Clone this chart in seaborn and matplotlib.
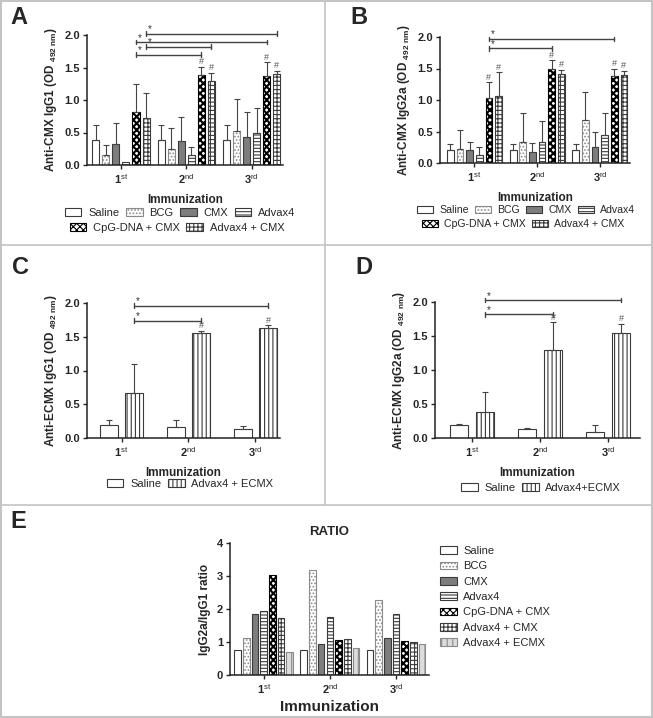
import numpy as np
import pandas as pd
import seaborn as sns
import matplotlib.pyplot as plt
from matplotlib.lines import Line2D

W, H = 653, 718

sns.set_style('white')
plt.rcParams['font.family'] = ['Liberation Sans', 'DejaVu Sans']
plt.rcParams['mathtext.fontset'] = 'custom'
plt.rcParams['mathtext.rm'] = 'Liberation Sans'
plt.rcParams['mathtext.bf'] = 'Liberation Sans:bold'
plt.rcParams['hatch.linewidth'] = 0.8

# ---- data ----
doses = ['1st', '2nd', '3rd']
dose_labels = [r'$\mathbf{1}^{\mathrm{st}}$', r'$\mathbf{2}^{\mathrm{nd}}$', r'$\mathbf{3}^{\mathrm{rd}}$']

groups_cmx = ['Saline', 'BCG', 'CMX', 'Advax4', 'CpG-DNA + CMX', 'Advax4 + CMX']
groups_ecmx = ['Saline', 'Advax4 + ECMX']
groups_ratio = ['Saline', 'BCG', 'CMX', 'Advax4', 'CpG-DNA + CMX', 'Advax4 + CMX', 'Advax4 + ECMX']

# A: anti-CMX IgG1 (mean, SD) per group x dose
a_mean = [[0.39, 0.39, 0.39], [0.16, 0.24, 0.52], [0.32, 0.37, 0.43],
          [0.05, 0.15, 0.49], [0.81, 1.38, 1.37], [0.73, 1.30, 1.40]]
a_sd = [[0.22, 0.22, 0.22], [0.15, 0.33, 0.50], [0.33, 0.37, 0.39],
        [0.00, 0.12, 0.39], [0.44, 0.13, 0.21], [0.38, 0.12, 0.05]]

# B: anti-CMX IgG2a
b_mean = [[0.20, 0.20, 0.20], [0.23, 0.33, 0.69], [0.20, 0.17, 0.26],
          [0.13, 0.34, 0.45], [1.03, 1.50, 1.38], [1.07, 1.42, 1.40]]
b_sd = [[0.10, 0.10, 0.10], [0.30, 0.46, 0.44], [0.14, 0.14, 0.24],
        [0.13, 0.32, 0.34], [0.25, 0.13, 0.12], [0.37, 0.06, 0.06]]

# C: anti-ECMX IgG1
c_mean = [[0.20, 0.17, 0.13], [0.67, 1.55, 1.63]]
c_sd = [[0.07, 0.09, 0.05], [0.42, 0.04, 0.04]]

# D: anti-ECMX IgG2a
d_mean = [[0.19, 0.13, 0.09], [0.38, 1.30, 1.54]]
d_sd = [[0.01, 0.02, 0.10], [0.29, 0.40, 0.14]]

# E: IgG2a/IgG1 ratio
e_ratio = [[0.76, 0.76, 0.76], [1.11, 3.19, 2.28], [1.84, 0.93, 1.12],
           [1.94, 1.76, 1.86], [3.02, 1.06, 1.03], [1.72, 1.08, 0.99],
           [0.71, 0.83, 0.94]]

# significance: (group idx, dose from, dose to, height) and '#' marks (group idx, dose)
a_sig = [(4, 0, 1, 1.70), (5, 0, 1, 1.82), (4, 0, 2, 1.89), (5, 0, 2, 2.02)]
a_hash = [(4, 1), (5, 1), (4, 2), (5, 2)]
b_sig = [(4, 0, 1, 1.82), (4, 0, 2, 1.97)]
b_hash = [(4, 0), (5, 0), (4, 1), (5, 1), (4, 2), (5, 2)]
c_sig = [(1, 0, 1, 1.74), (1, 0, 2, 1.96)]
c_hash = [(1, 1), (1, 2)]
d_sig = [(1, 0, 1, 1.82), (1, 0, 2, 2.03)]
d_hash = [(1, 1), (1, 2)]

# ---- styles: facecolor, hatch, edgecolor, hatch linewidth ----
EDGE = '#3a3a3a'
STYLE = {
    'Saline': ('white', '', EDGE, 0.8),
    'BCG': ('white', '.....', '#8a8a8a', 0.8),
    'CMX': ('#7d7d7d', '', EDGE, 0.8),
    'Advax4': ('white', '-----', EDGE, 0.8),
    'CpG-DNA + CMX': ('white', 'xxxxx', '#000000', 1.5),
    'Advax4 + CMX': ('white', '++++', EDGE, 0.8),
    'Advax4 + ECMX': ('white', '||||', EDGE, 0.8),
}

fig = plt.figure(figsize=(W / 100, H / 100), dpi=100)


def add_ax(l, r, t, b):
    return fig.add_axes([l / W, 1 - b / H, (r - l) / W, (b - t) / H])


def draw_bars(ax, groups, means, sds, width, gap, style=STYLE):
    rows = []
    for g, m in zip(groups, means):
        for d, v in zip(doses, m):
            rows.append({'dose': d, 'group': g, 'value': v})
    df = pd.DataFrame(rows)
    pal = {g: style[g][0] for g in groups}
    sns.barplot(data=df, x='dose', y='value', hue='group', order=doses,
                hue_order=groups, palette=pal, saturation=1, errorbar=None,
                width=width, gap=gap, edgecolor=EDGE, linewidth=0.8,
                legend=False, ax=ax)
    conts = list(ax.containers)
    for k, (cont, g) in enumerate(zip(conts, groups)):
        fc, hatch, ec, hlw = style[g]
        for j, bar in enumerate(cont):
            bar.set_hatch(hatch)
            bar.set_edgecolor(ec)
            if hasattr(bar, 'set_hatch_linewidth'):
                bar.set_hatch_linewidth(hlw)
            else:
                bar._hatch_linewidth = hlw
            if sds is not None and sds[k][j] > 0:
                x = bar.get_x() + bar.get_width() / 2
                ax.errorbar(x, bar.get_height(), yerr=[[0], [sds[k][j]]],
                            fmt='none', ecolor='#444444', elinewidth=0.8,
                            capsize=2.2, capthick=0.8)
    return conts


def style_axis(ax, ylabel, xlim, ylim, yticks, fmt='{:.1f}'):
    sns.despine(ax=ax)
    for s in ('left', 'bottom'):
        ax.spines[s].set_linewidth(1.1)
        ax.spines[s].set_color('#222222')
    ax.set_xlim(*xlim)
    ax.set_ylim(*ylim)
    ax.set_yticks(yticks)
    ax.set_yticklabels([fmt.format(v) for v in yticks], fontweight='bold')
    ax.set_xticks([0, 1, 2])
    ax.set_xticklabels(dose_labels)
    ax.tick_params(axis='both', labelsize=8, length=3, width=1, direction='out',
                   left=True, bottom=True, pad=2)
    ax.set_ylabel(ylabel, fontsize=8.5, fontweight='bold', labelpad=4)
    ax.set_xlabel('Immunization', fontsize=8.5, fontweight='bold', labelpad=6)


def bar_x(conts, k, j):
    b = conts[k][j]
    return b.get_x() + b.get_width() / 2


def annotate(ax, conts, sig, hashes, sds):
    for k, j1, j2, y in sig:
        x1, x2 = bar_x(conts, k, j1), bar_x(conts, k, j2)
        ax.plot([x1, x2], [y, y], color='#444444', lw=1.0, clip_on=False)
        for x in (x1, x2):
            ax.plot([x, x], [y - 0.035, y + 0.035], color='#444444', lw=1.0,
                    clip_on=False)
        ax.text(x1 + 0.03, y - 0.01, '*', fontsize=7, ha='left', va='bottom',
                color='#333333', clip_on=False)
    for k, j in hashes:
        b = conts[k][j]
        top = b.get_height() + sds[k][j]
        ax.text(b.get_x() + b.get_width() / 2, top + 0.01, '#', fontsize=6.5,
                ha='center', va='bottom', color='#555555', clip_on=False)


def row_legend(conts, labels, x, y, ncol, size=8):
    handles = [c.patches[0] for c in conts]
    return fig.legend(handles, labels, loc='center',
                      bbox_to_anchor=(x / W, 1 - y / H), ncol=ncol,
                      frameon=False, fontsize=size, handlelength=1.5,
                      handleheight=0.7, columnspacing=0.6, handletextpad=0.6,
                      borderpad=0, borderaxespad=0)


yt = [0.0, 0.5, 1.0, 1.5, 2.0]

# ---- A ----
axA = add_ax(87, 283, 35, 165)
cA = draw_bars(axA, groups_cmx, a_mean, a_sd, 0.92, 0.3)
style_axis(axA, r'Anti-CMX IgG1 (OD $_{\mathregular{492\ nm}}$)', (-0.52, 2.48), (0, 2), yt)
annotate(axA, cA, a_sig, a_hash, a_sd)
row_legend(cA[:4], groups_cmx[:4], 180, 213, 4)
row_legend(cA[4:], groups_cmx[4:], 177, 228, 2)

# ---- B ----
axB = add_ax(440, 630, 37, 163)
cB = draw_bars(axB, groups_cmx, b_mean, b_sd, 0.92, 0.3)
style_axis(axB, r'Anti-CMX IgG2a (OD $_{\mathregular{492\ nm}}$)', (-0.55, 2.48), (0, 2), yt)
annotate(axB, cB, b_sig, b_hash, b_sd)
row_legend(cB[:4], groups_cmx[:4], 526, 210, 4, 7.6)
row_legend(cB[4:], groups_cmx[4:], 523, 224, 2, 7.6)

# ---- C ----
axC = add_ax(87, 280, 303, 438)
cC = draw_bars(axC, groups_ecmx, c_mean, c_sd, 0.75, 0.28)
style_axis(axC, r'Anti-ECMX IgG1 (OD $_{\mathregular{492\ nm}}$)', (-0.515, 2.366), (0, 2), yt)
annotate(axC, cC, c_sig, c_hash, c_sd)
row_legend(cC, groups_ecmx, 190, 484, 2)

# ---- D ----
axD = add_ax(435, 640, 302, 438)
cD = draw_bars(axD, groups_ecmx, d_mean, d_sd, 0.76, 0.33)
style_axis(axD, r'Anti-ECMX IgG2a (OD $_{\mathregular{492\ nm}}$)', (-0.545, 2.47), (0, 2), yt)
annotate(axD, cD, d_sig, d_hash, d_sd)
row_legend(cD, ['Saline', 'Advax4+ECMX'], 541, 488, 2)

# ---- E ----
styleE = dict(STYLE)
styleE['Advax4 + ECMX'] = ('#dcdcdc', '|||', '#8a8a8a', 0.8)
axE = add_ax(230, 429, 543, 675)
cE = draw_bars(axE, groups_ratio, e_ratio, None, 0.92, 0.24, style=styleE)
style_axis(axE, 'IgG2a/IgG1 ratio', (-0.51, 2.5), (0, 4), [0, 1, 2, 3, 4], fmt='{:.0f}')
axE.set_xlabel('Immunization', fontsize=11, fontweight='bold', labelpad=3)
axE.set_title('RATIO', fontsize=9.5, fontweight='bold', pad=6)
fig.legend([c.patches[0] for c in cE], groups_ratio, loc='upper left',
           bbox_to_anchor=(440 / W, 1 - 546 / H), frameon=False, fontsize=8,
           handlelength=1.5, handleheight=0.7, labelspacing=0.48,
           handletextpad=0.6, borderpad=0, borderaxespad=0)

# ---- panel letters and frames ----
for letter, x, y in [('A', 10, 18), ('B', 350, 18), ('C', 12, 268),
                     ('D', 355, 268), ('E', 10, 522)]:
    fig.text(x / W, 1 - y / H, letter, fontsize=17, fontweight='bold', va='center')

grey = '#c4c4c4'
for y in (245, 505):
    fig.add_artist(Line2D([0, 1], [1 - y / H] * 2, transform=fig.transFigure, color=grey, lw=1.2))
fig.add_artist(Line2D([325 / W] * 2, [1, 1 - 505 / H], transform=fig.transFigure, color=grey, lw=1.2))
for xs, ys in [([0.001, 0.001], [0, 1]), ([0.999, 0.999], [0, 1]),
               ([0, 1], [0.001, 0.001]), ([0, 1], [0.999, 0.999])]:
    fig.add_artist(Line2D(xs, ys, transform=fig.transFigure, color=grey, lw=1.5))

fig.savefig('out.png', dpi=100)
